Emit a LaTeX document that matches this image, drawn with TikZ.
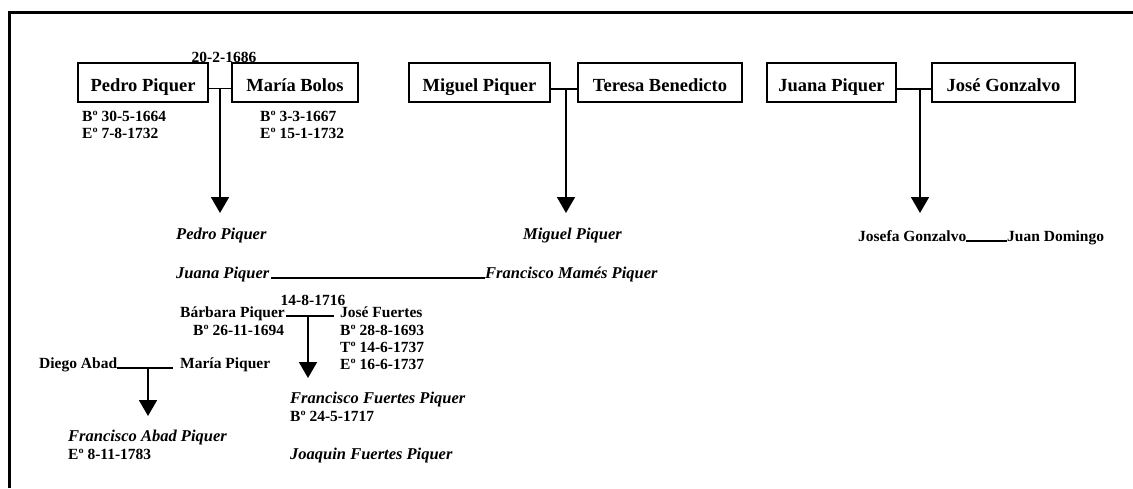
\documentclass[tikz,border=0pt]{standalone}
\usepackage{fontspec}
\setmainfont{Liberation Serif}
\usetikzlibrary{arrows.meta}
\begin{document}
\begin{tikzpicture}[x=1pt,y=-1pt,
  person/.style={draw,line width=1.3pt,minimum height=39pt,inner sep=0pt,text height=17pt,text depth=0pt,font=\fontsize{18.5}{21}\selectfont\bfseries},
  lbl/.style={anchor=base west,inner sep=0pt,font=\fontsize{15.5}{18}\selectfont\bfseries},
  kid/.style={anchor=base west,inner sep=0pt,font=\fontsize{16.5}{19}\selectfont\bfseries\itshape},
  link/.style={line width=1.8pt},
  desc/.style={line width=1.8pt,-{Triangle[width=18pt,length=16pt]}}]
\useasboundingbox (0,0) rectangle (1133,488);
\draw[line width=2.5pt] (9.5,488) -- (9.5,12.5) -- (1133,12.5);
% top couples
\node[person,minimum width=130pt] (pp) at (143,82.5) {Pedro Piquer};
\node[person,minimum width=126pt] (mb) at (295,82.5) {María Bolos};
\node[person,minimum width=141pt] (mp) at (479.5,82.5) {Miguel Piquer};
\node[person,minimum width=164pt] (tb) at (660,82.5) {Teresa Benedicto};
\node[person,minimum width=129pt] (jp) at (831.5,82.5) {Juana Piquer};
\node[person,minimum width=143pt] (jg) at (1003.5,82.5) {José Gonzalvo};
\node[lbl,anchor=base] (d1) at (224,62) {20-2-1686};
\node[lbl] (pb) at (82,121) {Bº 30-5-1664};
\node[lbl] (pe) at (82,138) {Eº 7-8-1732};
\node[lbl] (mbb) at (260,121) {Bº 3-3-1667};
\node[lbl] (mbe) at (260,138) {Eº 15-1-1732};
\coordinate (j1) at (220,88.5);
\coordinate (j2) at (566,89);
\coordinate (j3) at (920,89);
\draw[link] (pp.east |- j1) -- (mb.west |- j1);
\draw[link] (mp.east |- j2) -- (tb.west |- j2);
\draw[link] (jp.east |- j3) -- (jg.west |- j3);
\coordinate (t1) at (220,213);
\coordinate (t2) at (566,213);
\coordinate (t3) at (920,213);
\draw[desc] (j1) -- (t1);
\draw[desc] (j2) -- (t2);
\draw[desc] (j3) -- (t3);
% children
\node[kid] (c1) at (176,239) {Pedro Piquer};
\node[kid] (c2) at (176,278) {Juana Piquer};
\node[kid] (c3) at (485,278) {Francisco Mamés Piquer};
\draw[link] ([xshift=2pt]c2.base east) -- (c3.base west);
\node[kid] (c4) at (523,239) {Miguel Piquer};
\node[lbl] (c5) at (858,241) {Josefa Gonzalvo};
\node[lbl] (c6) at (1007,241) {Juan Domingo};
\draw[link] (c5.base east) -- (c6.base west);
% Barbara & Jose Fuertes
\node[lbl] (bp) at (180,317) {Bárbara Piquer};
\node[lbl] (jf) at (340,317) {José Fuertes};
\node[lbl,anchor=base] (d2) at (313,305) {14-8-1716};
\coordinate (j4) at (308,316);
\draw[link] ([xshift=1pt]bp.base east |- j4) -- ([xshift=-6pt]jf.base west |- j4);
\coordinate (t4) at (308,378);
\draw[desc] (j4) -- (t4);
\node[lbl] (bpb) at (193,335) {Bº 26-11-1694};
\node[lbl] (jfb) at (340,335) {Bº 28-8-1693};
\node[lbl] (jft) at (340,352) {Tº 14-6-1737};
\node[lbl] (jfe) at (340,369) {Eº 16-6-1737};
\node[kid] (ff) at (290,403) {Francisco Fuertes Piquer};
\node[lbl] (ffb) at (290,421) {Bº 24-5-1717};
\node[kid] (jq) at (290,459) {Joaquin Fuertes Piquer};
% Diego Abad & Maria Piquer
\node[lbl] (da) at (39,368) {Diego Abad};
\node[lbl] (mpq) at (180,368) {María Piquer};
\coordinate (j5) at (148,368);
\draw[link] (da.base east) -- ([xshift=-7pt]mpq.base west);
\coordinate (t5) at (148,416);
\draw[desc] (j5) -- (t5);
\node[kid] (fa) at (68,441) {Francisco Abad Piquer};
\node[lbl] (fae) at (68,459) {Eº 8-11-1783};
\end{tikzpicture}
\end{document}
